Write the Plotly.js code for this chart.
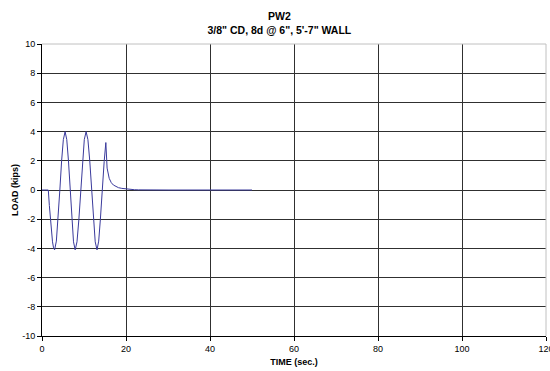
<!DOCTYPE html>
<html>
<head>
<meta charset="utf-8">
<script src="https://cdn.plot.ly/plotly-3.0.1.min.js"></script>
<style>
  html, body { margin: 0; padding: 0; background: #fff; }
  #chart { width: 550px; height: 371px; }
</style>
</head>
<body>
<div id="chart"></div>
<script>
// Load history for wall PW2: time (s) vs. load (kips)
const timeSec = [
  0, 1.5, 1.75, 2.0, 2.25, 2.5, 2.75, 3.0,
  3.42, 3.83, 4.25, 4.67, 5.08, 5.5,
  5.9, 6.3, 6.7, 7.1, 7.5, 7.9,
  8.33, 8.77, 9.2, 9.63, 10.07, 10.5,
  10.93, 11.37, 11.8, 12.23, 12.67, 13.1,
  13.5, 13.9, 14.3, 14.8, 15.2, 15.5, 16.0, 16.5, 17.0, 17.6, 18.2,
  19.0, 20.0, 21.0, 22.0, 23.0, 24.0, 25.0, 26.0, 30.0, 35.0, 40.0, 45.0, 50.0
];
const loadKips = [
  0, 0, -1.06, -2.05, -2.9, -3.55, -3.96, -4.1,
  -3.5, -2.0, 0, 2.0, 3.45, 4.0,
  3.45, 2.0, 0, -2.05, -3.55, -4.1,
  -3.55, -2.05, 0, 2.0, 3.45, 4.0,
  3.45, 2.0, 0, -2.05, -3.55, -4.1,
  -3.5, -2.0, 0, 1.94, 3.25, 1.5, 0.8, 0.5, 0.34, 0.23, 0.16,
  0.11, 0.07, 0.04, 0.02, 0.01, 0.005, 0, 0, 0, 0, 0, 0, 0
];

const xTicks = [0, 20, 40, 60, 80, 100, 120];
const yTicks = [-10, -8, -6, -4, -2, 0, 2, 4, 6, 8, 10];

const fontFamily = 'Liberation Sans, Arial, sans-serif';

const trace = {
  x: timeSec,
  y: loadKips,
  type: 'scatter',
  mode: 'lines',
  line: { color: '#3a3a9c', width: 1 },
  hoverinfo: 'x+y'
};

const layout = {
  width: 550,
  height: 371,
  margin: { l: 42, r: 4, t: 44, b: 35 },
  paper_bgcolor: '#ffffff',
  plot_bgcolor: '#ffffff',
  showlegend: false,
  font: { family: fontFamily, size: 9, color: '#000' },
  title: {
    text: '<b>PW2</b><br><b>3/8" CD, 8d @ 6", 5\'-7" WALL</b>',
    font: { family: fontFamily, size: 10.5, color: '#000' },
    x: 0.508,
    xref: 'container',
    xanchor: 'center',
    y: 0.946,
    yref: 'container',
    yanchor: 'middle'
  },
  xaxis: {
    range: [0, 120],
    tickvals: xTicks,
    ticktext: xTicks.map(String),
    ticks: 'outside',
    ticklen: 4,
    tickcolor: '#000',
    ticklabeloverflow: 'allow',
    showline: true,
    linecolor: '#000',
    linewidth: 1,
    showgrid: true,
    gridcolor: '#303030',
    gridwidth: 1,
    zeroline: false,
    tickfont: { family: fontFamily, size: 9, color: '#000' },
    title: {
      text: '<b>TIME (sec.)</b>',
      font: { family: fontFamily, size: 9, color: '#000' },
      standoff: 5
    },
    fixedrange: true
  },
  yaxis: {
    range: [-10, 10],
    tickvals: yTicks,
    ticktext: yTicks.map(String),
    ticks: 'outside',
    ticklen: 4,
    tickcolor: '#000',
    showline: true,
    linecolor: '#000',
    linewidth: 1,
    showgrid: true,
    gridcolor: '#303030',
    gridwidth: 1,
    zeroline: false,
    tickfont: { family: fontFamily, size: 9, color: '#000' },
    title: {
      text: '<b>LOAD (kips)</b>',
      font: { family: fontFamily, size: 9, color: '#000' },
      standoff: 2
    },
    fixedrange: true
  },
  shapes: [
    // light plot-area border along the top and right edges
    { type: 'line', xref: 'paper', yref: 'paper', x0: 0, x1: 1, y0: 1, y1: 1,
      line: { color: '#c0c0c0', width: 1 }, layer: 'above' },
    { type: 'line', xref: 'paper', yref: 'paper', x0: 1, x1: 1, y0: 0, y1: 1,
      line: { color: '#c0c0c0', width: 1 }, layer: 'above' }
  ]
};

Plotly.newPlot('chart', [trace], layout, { displayModeBar: false, staticPlot: true });
</script>
</body>
</html>
